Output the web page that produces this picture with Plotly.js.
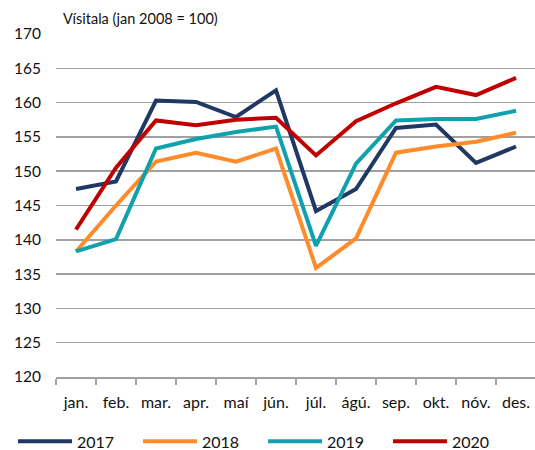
<!DOCTYPE html>
<html>
<head>
<meta charset="utf-8">
<script src="https://cdn.plot.ly/plotly-3.0.1.min.js"></script>
<style>html,body{margin:0;padding:0;background:#fff;}#chart{width:535px;height:450px;}</style>
</head>
<body>
<div id="chart"></div>
<script>
var months = ["jan.", "feb.", "mar.", "apr.", "maí", "jún.", "júl.", "ágú.", "sep.", "okt.", "nóv.", "des."];
var y2017 = [147.4, 148.5, 160.3, 160.1, 157.9, 161.8, 144.2, 147.4, 156.3, 156.8, 151.2, 153.6];
var y2018 = [138.3, 145.0, 151.4, 152.7, 151.4, 153.3, 135.9, 140.2, 152.7, 153.6, 154.3, 155.6];
var y2019 = [138.3, 140.1, 153.3, 154.7, 155.7, 156.5, 139.1, 151.1, 157.4, 157.6, 157.6, 158.8];
var y2020 = [141.5, 150.5, 157.4, 156.7, 157.5, 157.8, 152.3, 157.3, 159.9, 162.3, 161.1, 163.6];
var seriesNames = ["2017", "2018", "2019", "2020"];
var colors = ["#203864", "#ff8b2b", "#11a0ad", "#c00000"];
var yTicks = [120, 125, 130, 135, 140, 145, 150, 155, 160, 165, 170];

var all = [y2017, y2018, y2019, y2020];
var traces = all.map(function (ys, i) {
  return {
    type: "scatter",
    mode: "lines",
    x: months,
    y: ys,
    name: seriesNames[i],
    line: { color: colors[i], width: 4 },
    hoverinfo: "x+y+name"
  };
});

var font = "Lato, 'Open Sans', 'Liberation Sans', sans-serif";
var plotL = 56, plotW = 479, plotB = 377.5, plotH = 343.5;
var layout = {
  width: 535,
  height: 450,
  margin: { l: 56, r: 0, t: 34, b: 72.5, autoexpand: false },
  paper_bgcolor: "#ffffff",
  plot_bgcolor: "#ffffff",
  font: { family: font, size: 15, color: "#111111" },
  title: {
    text: "Vísitala (jan 2008 = 100)",
    font: { family: font, size: 14.5, color: "#111111" },
    xref: "container", yref: "container",
    x: 63 / 535, xanchor: "left",
    y: 1 - 19 / 450, yanchor: "middle"
  },
  xaxis: {
    type: "category",
    categoryorder: "array",
    categoryarray: months,
    range: [-0.5, 11.475],
    showgrid: false,
    showline: true,
    linecolor: "#a0a0a0",
    linewidth: 1.5,
    ticks: "outside",
    tickson: "boundaries",
    ticklen: 6,
    tickcolor: "#a0a0a0",
    tickwidth: 1.5,
    ticklabelstandoff: 10,
    tickfont: { family: font, size: 16, color: "#111111" },
    automargin: false,
    fixedrange: true
  },
  yaxis: {
    range: [120, 170],
    tickvals: yTicks,
    ticktext: yTicks.map(String),
    showgrid: true,
    gridcolor: "#a0a0a0",
    gridwidth: 1.5,
    zeroline: false,
    showline: false,
    ticks: "",
    ticklabelstandoff: 14,
    tickfont: { family: font, size: 15.5, color: "#111111" },
    automargin: false,
    fixedrange: true
  },
  showlegend: true,
  legend: {
    orientation: "h",
    x: (13 - plotL) / plotW, xanchor: "left", xref: "paper",
    y: -(442 - plotB) / plotH, yanchor: "middle", yref: "paper",
    font: { family: font, size: 16, color: "#111111" },
    itemwidth: 54,
    entrywidth: 56,
    entrywidthmode: "pixels",
    traceorder: "normal",
    bgcolor: "rgba(0,0,0,0)"
  }
};

Plotly.newPlot("chart", traces, layout, { displayModeBar: false, staticPlot: true });
</script>
</body>
</html>
